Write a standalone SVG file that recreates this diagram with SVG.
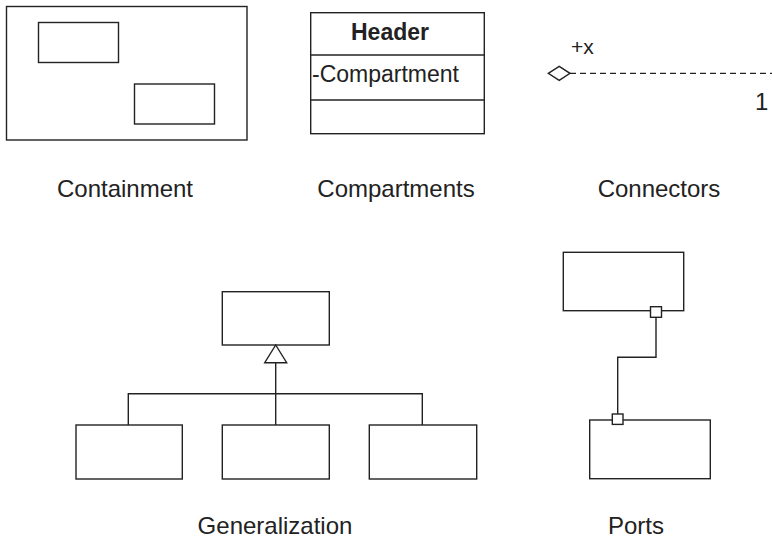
<svg xmlns="http://www.w3.org/2000/svg" width="772" height="540" viewBox="0 0 772 540">
<style>
.box{fill:#fff;stroke:#222;stroke-width:1.4}
.ln{fill:none;stroke:#222;stroke-width:1.4}
.dash{fill:none;stroke:#222;stroke-width:1.2;stroke-dasharray:6 4}
text{font-family:"Liberation Sans",Arial,sans-serif;fill:#222}
.lbl{font-size:24px;text-anchor:middle}
</style>
<rect width="772" height="540" fill="#fff"/>
<g id="containment">
<rect class="box" x="6.5" y="6.5" width="240.5" height="133.5"/>
<rect class="box" x="38.5" y="22.5" width="80" height="40"/>
<rect class="box" x="134.5" y="84" width="80" height="40"/>
<text class="lbl" x="125" y="197">Containment</text>
</g>
<g id="compartments">
<rect class="box" x="310.7" y="12.7" width="173.6" height="121"/>
<line class="ln" x1="310.7" y1="55" x2="484.3" y2="55"/>
<line class="ln" x1="310.7" y1="100" x2="484.3" y2="100"/>
<text x="390" y="40" font-size="23" font-weight="bold" text-anchor="middle">Header</text>
<text x="312" y="81.5" font-size="23">-Compartment</text>
<text class="lbl" x="396" y="197">Compartments</text>
</g>
<g id="connectors-demo">
<text x="571" y="54" font-size="21">+x</text>
<text x="755" y="109.5" font-size="24">1</text>
<text class="lbl" x="659" y="197">Connectors</text>
</g>
<g id="gen-parent"><rect class="box" x="222.3" y="291.7" width="107" height="53.3"/></g>
<g id="gen-child1"><rect class="box" x="76" y="425" width="106.3" height="54"/></g>
<g id="gen-child2"><rect class="box" x="222.3" y="425" width="107" height="54"/></g>
<g id="gen-child3"><rect class="box" x="369.3" y="425" width="107.4" height="54"/></g>
<g id="gen-label"><text class="lbl" x="275" y="534">Generalization</text></g>
<g id="port-top"><rect class="box" x="563.3" y="252.3" width="120.4" height="58.4"/></g>
<g id="port-bottom"><rect class="box" x="589.7" y="420" width="120.6" height="58.7"/></g>
<g id="ports-label"><text class="lbl" x="636" y="534">Ports</text></g>
<g id="connectors">
<line class="dash" x1="570" y1="73.3" x2="772" y2="73.3"/>
<polygon class="box" points="548.3,73.3 559.2,66.3 570,73.3 559.2,80.3"/>
<polyline class="ln" points="128.3,425 128.3,393.7 422.3,393.7 422.3,425"/>
<line class="ln" x1="275.7" y1="362.7" x2="275.7" y2="425"/>
<polygon class="box" points="275.7,345 286.7,362.7 264.7,362.7"/>
<polyline class="ln" points="656,317.3 656,357.3 617.7,357.3 617.7,414"/>
<rect class="box" x="650.5" y="306.7" width="11" height="10.6"/>
<rect class="box" x="612.3" y="414" width="10.7" height="10.4"/>
</g>
</svg>
